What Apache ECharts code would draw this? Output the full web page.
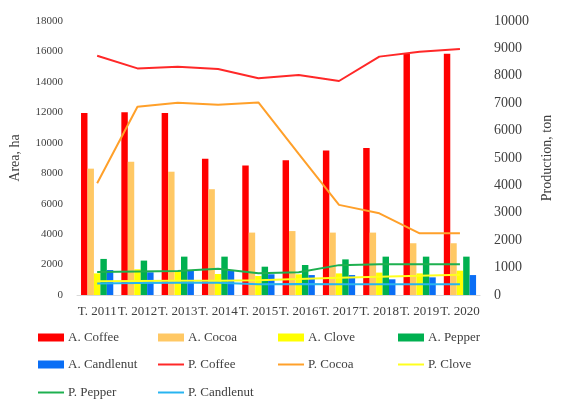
<!DOCTYPE html>
<html>
<head>
<meta charset="utf-8">
<script src="https://cdn.jsdelivr.net/npm/echarts@6/dist/echarts.min.js"></script>
<style>
html,body{margin:0;padding:0;background:#fff;}
#c{width:562px;height:401px;}
</style>
</head>
<body>
<div id="c"></div>
<script>
const categories = ['T. 2011','T. 2012','T. 2013','T. 2014','T. 2015','T. 2016','T. 2017','T. 2018','T. 2019','T. 2020'];
const areaCoffee    = [11950, 12000, 11950, 8950, 8500, 8850, 9500, 9650, 15850, 15850];
const areaCocoa     = [8300, 8750, 8100, 6950, 4100, 4200, 4100, 4100, 3400, 3400];
const areaClove     = [1420, 1690, 1550, 1380, 1250, 1360, 1420, 1470, 1420, 1600];
const areaPepper    = [2370, 2260, 2520, 2520, 1860, 1970, 2340, 2520, 2520, 2520];
const areaCandlenut = [1640, 1490, 1580, 1600, 1360, 1310, 1310, 1030, 1160, 1310];
const prodCoffee    = [8730, 8270, 8330, 8250, 7910, 8030, 7810, 8700, 8880, 8980];
const prodCocoa     = [4080, 6870, 7020, 6940, 7030, 5150, 3290, 2980, 2250, 2250];
const prodClove     = [500, 510, 520, 520, 540, 580, 630, 670, 700, 740];
const prodPepper    = [840, 860, 880, 960, 790, 830, 1090, 1120, 1120, 1120];
const prodCandlenut = [420, 440, 450, 450, 390, 400, 390, 390, 390, 390];
const leftTicks = {min: 0, max: 18000, interval: 2000};
const rightTicks = {min: 0, max: 10000, interval: 1000};

const FONT = '"Liberation Serif", "Times New Roman", serif';
const TXT = '#404040';

function bar(name, data, color) {
  return {name, type: 'bar', yAxisIndex: 0, data, barGap: '0%', barCategoryGap: '20%',
    itemStyle: {color}, z: 2};
}
function line(name, data, color) {
  return {name, type: 'line', yAxisIndex: 1, data, symbol: 'none',
    lineStyle: {color, width: 2}, itemStyle: {color}, z: 5};
}

const legendItems = [
  ['A. Coffee', 38, 331, 8], ['A. Cocoa', 158, 331, 8], ['A. Clove', 278, 331, 8], ['A. Pepper', 398, 331, 8],
  ['A. Candlenut', 38, 358, 8], ['P. Coffee', 158, 358, 2], ['P. Cocoa', 278, 358, 2], ['P. Clove', 398, 358, 2],
  ['P. Pepper', 38, 386, 2], ['P. Candlenut', 158, 386, 2]
];

const chart = echarts.init(document.getElementById('c'), null, {renderer: 'canvas'});
chart.setOption({
  animation: false,
  backgroundColor: '#fff',
  grid: {left: 77, right: 69, top: 21, bottom: 106},
  legend: legendItems.map(([n, l, t, h]) => ({
    data: [{name: n, icon: 'rect'}], left: l, top: t, padding: 0, itemWidth: 26, itemHeight: h, itemGap: 0,
    textStyle: {fontFamily: FONT, fontSize: 13, color: TXT, padding: [0, 0, 0, -1]}
  })),
  xAxis: {
    type: 'category', data: categories,
    axisLine: {show: true, lineStyle: {color: '#d9d9d9', width: 1}},
    axisTick: {show: false},
    axisLabel: {fontFamily: FONT, fontSize: 13, color: TXT, interval: 0, margin: 10}
  },
  yAxis: [
    {type: 'value', min: leftTicks.min, max: leftTicks.max, interval: leftTicks.interval,
     name: 'Area, ha', nameLocation: 'middle', nameRotate: 90, nameGap: 55,
     nameTextStyle: {fontFamily: FONT, fontSize: 14, color: TXT},
     axisLine: {show: false}, axisTick: {show: false}, splitLine: {show: false},
     axisLabel: {fontFamily: FONT, fontSize: 11, color: TXT, margin: 14, formatter: v => String(v)}},
    {type: 'value', min: rightTicks.min, max: rightTicks.max, interval: rightTicks.interval,
     name: 'Production, ton', nameLocation: 'middle', nameRotate: 90, nameGap: 57,
     nameTextStyle: {fontFamily: FONT, fontSize: 14, color: TXT},
     axisLine: {show: false}, axisTick: {show: false}, splitLine: {show: false},
     axisLabel: {fontFamily: FONT, fontSize: 14, color: TXT, margin: 14, formatter: v => String(v)}}
  ],
  series: [
    bar('A. Coffee', areaCoffee, '#ff0000'),
    bar('A. Cocoa', areaCocoa, '#ffc864'),
    bar('A. Clove', areaClove, '#ffff00'),
    bar('A. Pepper', areaPepper, '#00b050'),
    bar('A. Candlenut', areaCandlenut, '#0a6ef5'),
    line('P. Coffee', prodCoffee, '#ff2828'),
    line('P. Cocoa', prodCocoa, '#ffa02a'),
    line('P. Clove', prodClove, '#ffff1e'),
    line('P. Pepper', prodPepper, '#1eb050'),
    line('P. Candlenut', prodCandlenut, '#28b4f0')
  ]
});
</script>
</body>
</html>
